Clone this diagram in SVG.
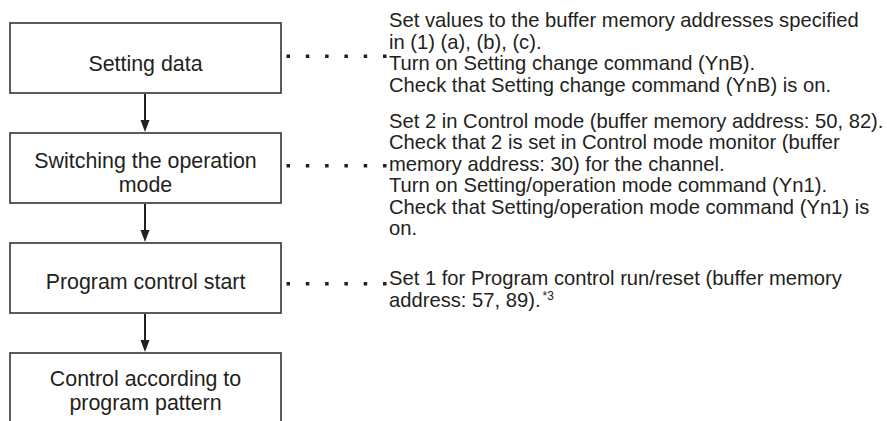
<svg xmlns="http://www.w3.org/2000/svg" width="887" height="421" viewBox="0 0 887 421">
<defs>
<style>
.box{fill:#fff;stroke:#333;stroke-width:1.6}
.bt{font-family:"Liberation Sans",Arial,sans-serif;font-size:21.4px;fill:#231f20;text-anchor:middle}
.nt{font-family:"Liberation Sans",Arial,sans-serif;font-size:20.2px;fill:#231f20}
.sup{font-size:12px}
.ln{stroke:#231f20;stroke-width:2;fill:none}
.dot{fill:#231f20}
</style>
<g id="dots"><rect x="0" y="0" width="3.5" height="3.5"/><rect x="19.3" y="0" width="3.5" height="3.5"/><rect x="38.6" y="0" width="3.5" height="3.5"/><rect x="57.9" y="0" width="3.5" height="3.5"/><rect x="77.2" y="0" width="3.5" height="3.5"/><rect x="96.5" y="0" width="3.5" height="3.5"/></g>
</defs>
<rect width="887" height="421" fill="#fff"/>
<g id="connectors">
<line class="ln" x1="145" y1="94" x2="145" y2="122"/>
<path d="M140.5,120 L149.5,120 L145,132 Z" fill="#231f20"/>
<line class="ln" x1="145" y1="204" x2="145" y2="232"/>
<path d="M140.5,230 L149.5,230 L145,242 Z" fill="#231f20"/>
<line class="ln" x1="145" y1="314" x2="145" y2="342"/>
<path d="M140.5,340 L149.5,340 L145,352 Z" fill="#231f20"/>
<use href="#dots" class="dot" x="286.5" y="54.5"/>
<use href="#dots" class="dot" x="286.5" y="164"/>
<use href="#dots" class="dot" x="286.5" y="282"/>
</g>
<g id="node1">
<rect class="box" x="10" y="23" width="271" height="70"/>
<text class="bt" x="145.5" y="70.5">Setting data</text>
</g>
<g id="node2">
<rect class="box" x="10" y="133" width="271" height="70"/>
<text class="bt" x="145.5" y="167.5">Switching the operation</text>
<text class="bt" x="145.5" y="192">mode</text>
</g>
<g id="node3">
<rect class="box" x="10" y="243" width="271" height="70"/>
<text class="bt" x="145.5" y="289">Program control start</text>
</g>
<g id="node4">
<rect class="box" x="10" y="353" width="271" height="80"/>
<text class="bt" x="145.5" y="385.5">Control according to</text>
<text class="bt" x="145.5" y="410">program pattern</text>
</g>
<g id="notes">
<text class="nt" x="389" y="27">Set values to the buffer memory addresses specified</text>
<text class="nt" x="389" y="48.5">in (1) (a), (b), (c).</text>
<text class="nt" x="389" y="70">Turn on Setting change command (YnB).</text>
<text class="nt" x="389" y="91.5">Check that Setting change command (YnB) is on.</text>
<text class="nt" x="389" y="127.5">Set 2 in Control mode (buffer memory address: 50, 82).</text>
<text class="nt" x="389" y="149">Check that 2 is set in Control mode monitor (buffer</text>
<text class="nt" x="389" y="170.5">memory address: 30) for the channel.</text>
<text class="nt" x="389" y="192">Turn on Setting/operation mode command (Yn1).</text>
<text class="nt" x="389" y="213.5">Check that Setting/operation mode command (Yn1) is</text>
<text class="nt" x="389" y="235">on.</text>
<text class="nt" x="389" y="285">Set 1 for Program control run/reset (buffer memory</text>
<text class="nt" x="389" y="306.5">address: 57, 89).<tspan class="sup" dx="2" dy="-7">*3</tspan></text>
</g>
</svg>
